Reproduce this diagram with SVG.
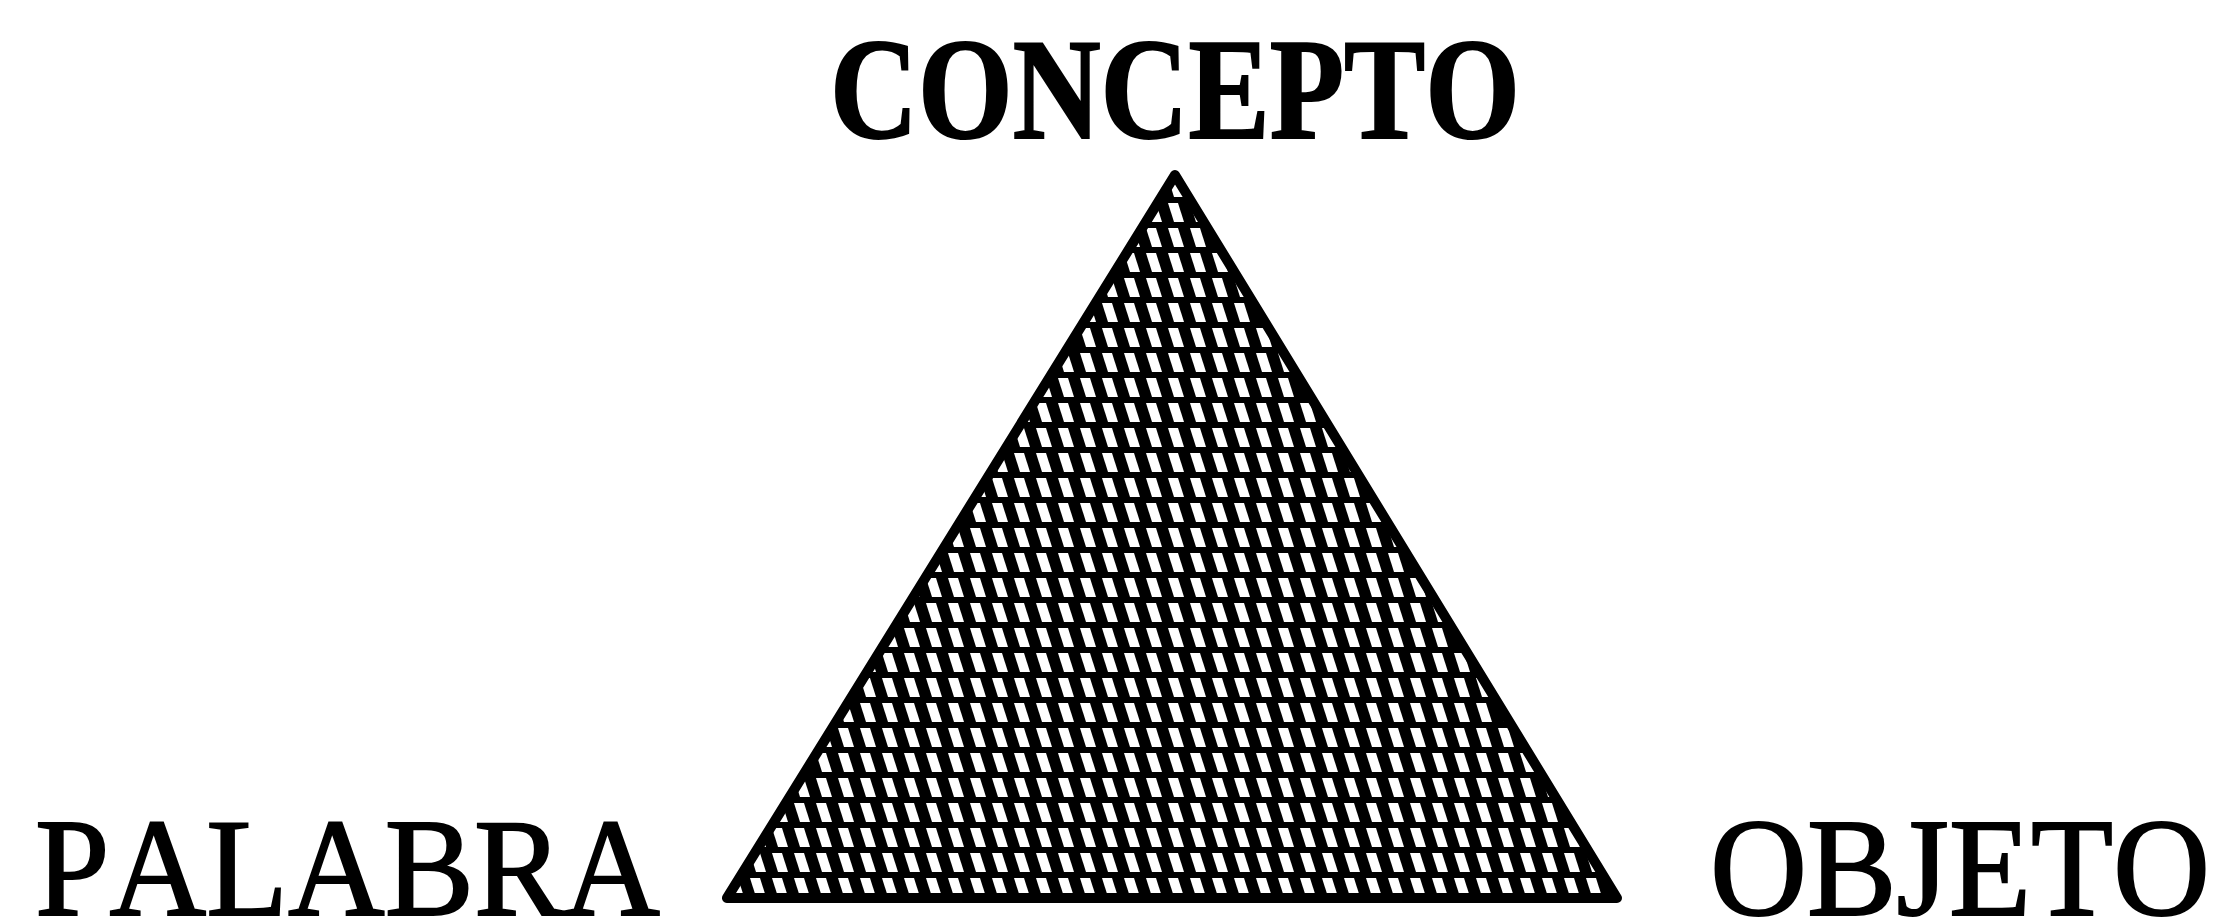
<svg xmlns="http://www.w3.org/2000/svg" width="2220" height="920" viewBox="0 0 2220 920">
<style>
.lbl{font-family:"Liberation Serif","DejaVu Serif",serif;fill:#000;stroke:#000;stroke-width:2;font-kerning:none}
.top{font-weight:bold}
</style>
<defs>
<pattern id="hatch" patternUnits="userSpaceOnUse" width="22" height="25">
<rect width="22" height="25" fill="#000"/>
<polygon points="2,3 12,3 18,22 8,22" fill="#fff"/>
</pattern>
</defs>
<g id="triangle">
<polygon points="1175,175 727,898 1617,898" fill="url(#hatch)" stroke="#000" stroke-width="10" stroke-linejoin="round"/>
</g>
<g id="concepto">
<text class="lbl top" x="1175" y="138" font-size="145" text-anchor="middle" textLength="690" lengthAdjust="spacingAndGlyphs">CONCEPTO</text>
</g>
<g id="palabra">
<text class="lbl" x="35" y="915" font-size="140" textLength="625" lengthAdjust="spacingAndGlyphs">PALABRA</text>
</g>
<g id="objeto">
<text class="lbl" x="1710" y="915" font-size="140" textLength="500" lengthAdjust="spacingAndGlyphs">OBJETO</text>
</g>
<g id="connectors"></g>
</svg>
